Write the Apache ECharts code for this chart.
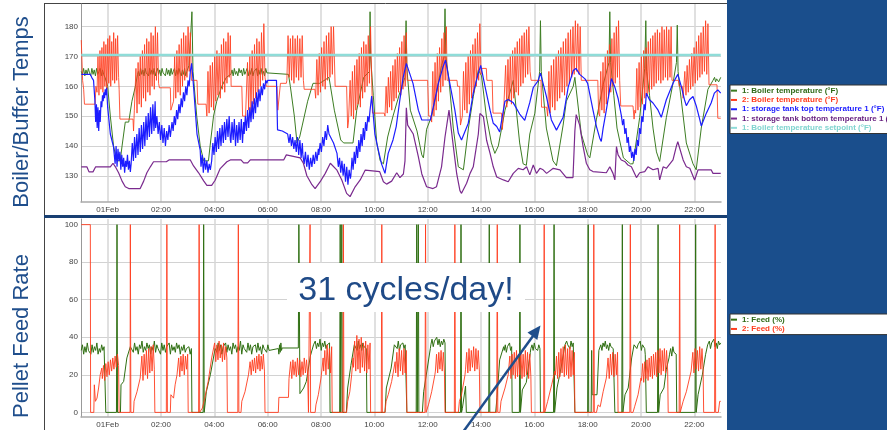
<!DOCTYPE html>
<html>
<head>
<meta charset="utf-8">
<script src="https://cdn.jsdelivr.net/npm/echarts@6/dist/echarts.min.js"></script>
<style>
  html, body { margin: 0; padding: 0; background: #fff; }
  #chart { width: 887px; height: 430px; }
</style>
</head>
<body>
<div id="chart"></div>
<script>
// x axis is hours relative to 01 Feb 00:00
const tickHours = [0, 2, 4, 6, 8, 10, 12, 14, 16, 18, 20, 22];
const tickLabels = ['01Feb', '02:00', '04:00', '06:00', '08:00', '10:00', '12:00', '14:00', '16:00', '18:00', '20:00', '22:00'];
const tempTicks = [130, 140, 150, 160, 170, 180];
const feedTicks = [0, 20, 40, 60, 80, 100];

const topNames = ['1: Boiler temperature (°F)', '2: Boiler temperature (°F)', '1: storage tank top temperature 1 (°F)', '1: storage tank bottom temperature 1 (°F)', '1: Boiler temperature setpoint (°F)'];
const bottomNames = ['1: Feed (%)', '2: Feed (%)'];

// pieces: [hour, value] or [fromHour, toHour, 'values sampled evenly over that span']
const boilerTemp1 = [
  [-0.99, -0.15, '165 164 166 163.5 165.5 164 166 164.5 163.5 166 164 165.5 163.5 166 164 165 166 163.5 165.5 164'],
  [-0.1, 163], [0, 160], [0.1, 150], [0.22, 140], [0.29, 137], [0.35, 135], [0.47, 135], [0.54, 140], [0.66, 148], [0.79, 148], [0.91, 155], [1.04, 160], [1.12, 164],
  [1.15, 2.97, '165 163.5 166 164 165.5 163.5 166 164.5 165 163.5 166 164 165.5 164 166 163.5 165 166 164 165.5 163.5 166 164.5 165 163.5 166 164 165.5 163.5 166 164 165 166 163.5 165.5 164 166 164.5 163.5 165.5 164 166 163.5 165'],
  [3.05, 167], [3.16, 185], [3.2, 165], [3.34, 150], [3.47, 140], [3.6, 135], [3.78, 135], [3.84, 140], [3.97, 150], [4.09, 155], [4.28, 160], [4.45, 163],
  [4.62, 5.97, '164 165.5 163.5 166 164 165 163.5 166 164.5 165.5 163.5 166 164 165 166 163.5 165.5 164 166 163.5 165 164.5 166 163.5 165.5 164 166 164 165 163.5 166 164.5'],
  [6.0, 164], [6.78, 164], [6.85, 160], [7.0, 150], [7.1, 141], [7.2, 143], [7.3, 147], [7.5, 155], [7.7, 161], [7.95, 161], [8.3, 163], [8.5, 152], [8.74, 142], [8.85, 141], [9.2, 141], [9.34, 152], [9.6, 163], [9.82, 165], [9.84, 185], [9.86, 170], [9.96, 157], [10.09, 141], [10.22, 135], [10.34, 134], [10.5, 143], [10.7, 150], [10.96, 158], [11.15, 163], [11.19, 182], [11.22, 166], [11.35, 152], [11.6, 145], [11.78, 137], [11.84, 136], [11.96, 145.6], [12.15, 150], [12.34, 158], [12.52, 167], [12.62, 170], [12.65, 186], [12.68, 170], [12.8, 162], [12.96, 146], [13.15, 133], [13.34, 132], [13.53, 146], [13.71, 156.5], [13.9, 165.5], [14.02, 163.5], [14.2, 150], [14.39, 141], [14.52, 137.5], [14.65, 140], [14.9, 152], [15.21, 162], [15.45, 141], [15.58, 134], [15.7, 133.5], [15.83, 144], [16.02, 151], [16.2, 165], [16.23, 182], [16.26, 165], [16.45, 146], [16.7, 135], [16.83, 133.4], [17.08, 147], [17.2, 155], [17.46, 160], [17.52, 163], [17.76, 144], [18.0, 137], [18.08, 136], [18.33, 149], [18.58, 160.5], [18.8, 168], [18.83, 185], [18.86, 168], [18.98, 157], [19.1, 146], [19.34, 136], [19.6, 134], [19.7, 134], [19.95, 149.5], [20.14, 166], [20.18, 182], [20.21, 165], [20.32, 157], [20.45, 146], [20.58, 138], [20.7, 134.8], [20.95, 149.5], [21.2, 161], [21.33, 168], [21.36, 180.5], [21.39, 165], [21.45, 160], [21.7, 141], [21.95, 134], [22.07, 132], [22.26, 146], [22.51, 159], [22.7, 162],
  [22.72, 22.99, '162 163 161.5 162.5 163 161.5 162 163']
];

const boilerTemp2 = [
  [-0.99, 175.5], [-0.94, 162], [-0.9, 159], [-0.87, 154], [-0.47, 154], [-0.44, 160],
  [-0.4, 0.41, '158 170 157 172 159 173 158 175 160 174 159 176 161 177 160 175 162 178 161 176 162 177 163'],
  [0.43, 159], [0.46, 149], [0.95, 149], [0.97, 145], [1.0, 152],
  [1.02, 1.91, '152 166 151 168 154 170 153 172 156 174 155 176 158 175 157 178 160 177 159 180 162 178 161'],
  [1.94, 159.5], [2.35, 159.5], [2.37, 152], [2.44, 152],
  [2.47, 3.1, '155 170 156 172 158 174 157 176 160 178 162 177 163 180 165 178'],
  [3.14, 162], [3.35, 162], [3.38, 154], [3.69, 154],
  [3.72, 4.6, '150 165 151 167 153 168 152 170 155 172 157 171 156 174 159 176 158 175 161 178 163 177'],
  [4.63, 160], [5.03, 160], [5.06, 150], [5.17, 150],
  [5.2, 5.9, '150 168 152 170 151 172 154 174 156 176 158 175 160 178 162 181 163'],
  [5.95, 160], [6.35, 160], [6.38, 152], [6.45, 152], [6.48, 161], [6.7, 161],
  [6.72, 7.34, '162 177 163 176 162 177 161 176 163 177 162 176 163 177 162'],
  [7.37, 159], [7.77, 159],
  [7.8, 8.47, '156 169 157 171 158 173 160 175 159 177 162 178 163 180 164 180'],
  [8.53, 160], [8.96, 160], [9.0, 146], [9.03, 148],
  [9.05, 9.9, '148 162 150 165 149 167 152 169 154 171 153 173 156 175 158 174 160 177 161 180 163'],
  [9.93, 151], [10.37, 151],
  [10.4, 11.2, '150 160 151 163 153 165 152 167 155 169 156 171 158 173 157 175 159 177 160 178'],
  [11.23, 162], [12.0, 162], [12.04, 150], [12.12, 150],
  [12.15, 12.7, '148 165 150 168 152 171 155 173 158 176 160 178 162 180'],
  [12.73, 162], [13.1, 162], [13.12, 160], [13.2, 160], [13.23, 147], [13.27, 147],
  [13.3, 14.0, '150 165 152 168 151 170 154 172 156 174 158 176 160 178 162 181 164'],
  [14.03, 166], [14.2, 166], [14.22, 162], [14.42, 162], [14.45, 151], [14.77, 151], [14.8, 145.5], [14.85, 152],
  [14.88, 15.84, '152 167 153 169 155 170 154 172 156 173 158 175 157 176 160 177 161 178 163 179 164 180 165'],
  [15.88, 162], [16.25, 162], [16.27, 153], [16.46, 153],
  [16.5, 17.72, '150 165 151 167 153 169 152 170 155 172 156 173 158 175 157 176 160 178 161 179 163 180 164 182 165 181 164 180'],
  [17.76, 162], [18.38, 162], [18.41, 151],
  [18.45, 19.2, '150 165 152 168 151 170 154 172 156 174 158 176 160 178 161 180 163 182 162'],
  [19.24, 153.4], [19.7, 153.4], [19.74, 149], [19.77, 152],
  [19.8, 21.13, '151 166 152 168 153 170 154 172 156 173 157 175 158 176 159 177 160 178 161 179 162 178 161 180 162 179 163 180 162 179 163 180'],
  [21.16, 162], [21.4, 162], [21.43, 160], [21.55, 160], [21.58, 156],
  [21.6, 22.51, '156 165 157 167 158 169 159 171 160 173 161 175 162 177 163 178 164 180 165 182 164 181'],
  [22.55, 160.5], [22.85, 160.5], [22.88, 149.3], [22.99, 149.3]
];

const tankTop = [
  [-0.99, 164], [-0.65, 164], [-0.6, 163], [-0.53, 162], [-0.48, 155.4],
  [-0.45, -0.25, '148 154 146 153 145 152 148 155'],
  [-0.22, -0.04, '153 157 155 158 156 159 157 159.5'],
  [0.0, 153], [0.1, 144], [0.22, 139.7],
  [0.28, 0.85, '134 140 133 139 135 138 132 137 133 136 131 135 133 137 132 135 131.3'],
  [0.88, 1.78, '134 141 135 143 136 144 137 146 138 147 139 148 140 150 142 151 143 153 144 154 145 155'],
  [1.8, 2.35, '146 150 144 148 142 147 141 146 140 145 142 147 143'],
  [2.37, 3.1, '143 148 145 150 147 152 149 154 151 156 153 158 155 160 157 162 160 165'],
  [3.15, 167.7], [3.22, 160], [3.35, 144], [3.47, 138.6],
  [3.5, 3.85, '133 137 131 136 132 135 131 134 132'],
  [3.9, 4.6, '135 141 137 143 138 145 139 146 140 147 141 148 142 149 143 150 142'],
  [4.62, 5.1, '141 148 142 149 140 147 141 148 142 149 141 148'],
  [5.12, 5.97, '144 150 145 152 146 153 148 155 149 156 151 158 153 159 155 160 157 161 159 162 161'],
  [6.0, 162], [6.33, 162], [6.37, 145.4], [6.55, 145], [6.75, 144],
  [6.8, 7.3, '141 144 140 143 139 142 138 143 137 142 136 141'],
  [7.32, 7.9, '137 134 138 133 137 132 136 133 137 134 138 135 139'],
  [7.92, 8.3, '137 141 138 143 140 145 142 147 144'],
  [8.35, 144], [8.47, 141], [8.6, 137.5],
  [8.65, 9.1, '133 136 131 135 130 134 128 133 127 132 129'],
  [9.12, 9.84, '130 136 132 138 134 140 136 142 138 144 140 146 142 148 145 150 148 152'],
  [9.9, 156.7], [10.02, 144], [10.15, 138.6], [10.27, 134], [10.4, 130.8], [10.52, 137.5], [10.7, 142], [10.82, 146.5], [10.95, 155], [11.08, 163], [11.2, 167.7], [11.45, 161], [11.65, 152], [11.78, 148.7], [12.1, 148.7], [12.21, 153], [12.4, 161], [12.58, 166.6], [12.67, 168.8], [12.83, 161], [13.02, 152], [13.15, 144.3], [13.27, 142], [13.33, 141.4], [13.52, 147.5], [13.71, 157.7], [13.9, 164.4], [13.99, 167], [14.15, 160], [14.34, 152], [14.46, 147.6], [14.59, 146.5], [14.7, 144.7], [14.9, 155], [15.02, 155.6], [15.2, 154.6], [15.45, 150.7], [15.64, 148.6], [15.83, 154.6], [15.96, 159.6], [16.14, 161.8], [16.23, 164.4], [16.45, 156.7], [16.64, 148.7], [16.83, 145.3], [16.9, 144.7], [17.08, 149.6], [17.27, 159.7], [17.46, 165.3], [17.56, 166], [17.7, 164], [17.9, 162.5], [18.0, 161], [18.2, 152], [18.33, 146.5], [18.45, 142.7], [18.51, 141.5], [18.58, 146], [18.7, 152], [18.89, 162.6], [19.02, 159.7],
  [19.14, 20.2, '156 154 152 150 147 149 144 146 141 143 138 140 136 138 135 139 137 142 140 146 144 150 148 154 152 157.7'],
  [20.32, 155.5], [20.45, 154.4], [20.64, 152], [20.76, 149.6], [20.95, 155.5], [21.2, 161], [21.38, 164], [21.51, 160], [21.63, 155.5], [21.7, 153.5], [21.82, 155.5], [21.95, 156.6], [22.07, 153.5], [22.2, 149], [22.26, 146.7], [22.45, 151], [22.63, 154.4], [22.75, 157.7], [22.88, 158.8], [22.99, 157.7]
];

const tankBottom = [
  [-0.99, 133], [-0.78, 133], [-0.7, 131.3], [-0.55, 131.3], [-0.45, 133], [0.1, 133], [0.2, 134.2], [0.29, 133], [0.41, 131], [0.54, 128.2], [0.66, 126.3], [0.79, 125.7], [1.22, 125.7], [1.35, 128.2], [1.47, 131], [1.6, 133], [1.72, 134.7], [2.2, 134.7], [2.3, 135.3], [3.1, 135.3], [3.22, 133.3], [3.41, 131], [3.6, 128.3], [3.72, 126.8], [3.9, 126.8], [4.03, 128.5], [4.22, 132.4], [4.47, 134.7], [4.6, 135.3], [5.0, 135.3], [5.1, 134.3], [5.25, 134.3], [5.35, 135.3], [6.6, 135.3], [6.7, 137], [7.22, 136], [7.34, 134.2], [7.47, 130], [7.66, 127], [7.78, 125.7], [7.97, 128], [8.16, 130.8], [8.35, 134.2], [8.4, 134.2], [8.59, 132], [8.78, 128.6], [8.96, 124.1], [9.09, 123], [9.28, 126.3], [9.47, 128.6], [9.66, 131.9], [10.2, 131.4], [10.34, 128], [10.46, 127.2], [10.65, 128.2], [10.84, 131], [10.96, 129.4], [11.09, 130.6], [11.15, 135], [11.2, 152.8], [11.25, 147], [11.46, 144], [11.65, 136.4], [11.78, 130.6], [11.96, 126.3], [12.2, 125.7], [12.33, 126.3], [12.52, 133], [12.65, 143], [12.8, 152], [12.96, 140], [13.09, 130.6], [13.21, 125], [13.27, 124.1], [13.46, 127.5], [13.59, 130.8], [13.71, 133], [13.9, 144], [13.96, 150.9], [14.09, 149.8], [14.21, 141.9], [14.34, 137.5], [14.46, 133], [14.59, 129.6], [14.84, 128.6], [15.02, 128], [15.21, 130.8], [15.4, 132.5], [15.58, 132], [15.71, 133], [15.83, 130.3], [15.96, 133.6], [16.08, 130.8], [16.21, 132.5], [16.33, 132], [16.46, 130.8], [16.71, 132.5], [16.96, 132], [17.2, 129.4], [17.45, 129.4], [17.52, 145], [17.57, 150.5], [17.7, 147], [17.83, 139.8], [17.95, 134.2], [18.08, 132], [18.2, 131.4], [18.7, 131], [18.83, 133], [18.95, 130.8], [19.02, 128.6], [19.08, 139.8], [19.14, 137], [19.26, 135.3], [19.39, 134.8], [19.51, 133.6], [19.64, 133], [19.83, 129.4], [19.95, 131], [20.14, 131.4], [20.26, 133], [20.45, 132], [20.64, 132.5], [20.7, 128.6], [20.83, 133], [20.95, 132.5], [21.2, 135.3], [21.33, 140], [21.38, 141.4], [21.58, 135.3], [21.7, 133], [21.83, 132.5], [22.01, 128.6], [22.14, 132], [22.63, 132], [22.7, 130.8], [22.99, 130.8]
];

const setpoint = [[-0.99, 170.5], [22.99, 170.5]];

const feed1 = [
  [-0.99, -0.09, '33 36 31 35 32 37 33 34 31 36 32 35 33 37 31 34 32 36 33 35 34'],
  [-0.07, 0], [0.33, 0], [0.35, 100], [0.37, 0], [0.48, 0], [0.5, 14.7], [0.6, 16.5], [0.72, 29], [0.85, 35],
  [0.87, 3.14, '34 36 32 37 33 35 31 36 34 38 32 35 33 37 34 36 31 35 33 38 32 36 34 35 31 37 33 36 32 35 34 37 31 36 33 35 32 37 34 36 31 35 33 36 32 34 33 35 31 34'],
  [3.16, 0], [3.58, 0], [3.6, 100], [3.62, 0], [3.68, 0], [3.7, 11], [3.85, 20], [4.03, 34],
  [4.05, 6.1, '35 32 37 33 36 31 35 34 37 32 36 33 35 31 37 34 36 32 35 33 38 31 36 34 35 32 37 33 36 31 35 34 36 32 37 33 35 31 36 34 35 32 36 33 34'],
  [6.12, 34], [6.4, 34],
  [6.42, 6.52, '31 36 32 37 33'],
  [6.54, 34.3], [7.15, 34.3], [7.17, 100], [7.19, 100], [7.21, 10], [7.35, 13], [7.45, 16.5], [7.6, 30], [7.72, 36],
  [7.74, 8.32, '36 38 34 37 35 39 33 37 35 38 34 36 35 37'],
  [8.34, 0], [8.7, 0], [8.72, 100], [8.74, 0], [8.76, 0], [8.78, 100], [8.8, 0], [8.95, 0], [9.0, 13], [9.12, 25], [9.25, 36],
  [9.27, 9.7, '35 37 33 38 34 36 33 37 35 36 34'],
  [9.72, 0], [10.4, 0], [10.45, 13], [10.63, 23.6], [10.75, 36],
  [10.77, 11.2, '35 37 34 38 33 36 35 37 34 36 35'],
  [11.22, 0], [11.57, 0], [11.59, 100], [11.61, 0], [11.63, 0], [11.65, 100], [11.67, 0], [11.8, 0], [11.85, 11], [11.97, 22], [12.1, 34],
  [12.12, 12.65, '36 39 35 38 37 40 36 39 35 38 36 39 37'],
  [12.67, 0], [13.23, 0], [13.25, 100], [13.27, 0], [13.3, 2], [13.42, 14], [13.45, 0], [14.29, 0], [14.31, 100], [14.33, 0], [14.55, 0], [14.6, 8], [14.7, 28], [14.85, 35],
  [14.87, 15.15, '33 36 32 35 34 37 33 35'],
  [15.17, 0], [15.44, 0], [15.46, 100], [15.48, 0], [15.52, 0], [15.55, 12], [15.7, 16], [15.85, 32],
  [15.87, 16.21, '34 36 33 37 34 35 33 36 34'],
  [16.23, 0], [16.72, 0], [16.74, 100], [16.76, 0], [16.8, 0], [16.85, 13], [16.98, 22], [17.15, 36],
  [17.17, 17.5, '35 38 36 37 34 38 35 37 36'],
  [17.52, 0], [18.0, 0], [18.02, 100], [18.04, 0], [18.13, 0], [18.15, 33], [18.17, 9.4], [18.35, 9.4], [18.42, 33],
  [18.45, 19.0, '34 36 33 37 35 38 34 36 33 37 35 36 34 35'],
  [19.02, 0], [19.28, 0], [19.3, 100], [19.32, 0], [19.38, 0], [19.4, 9.4], [19.52, 13], [19.65, 29], [19.74, 36],
  [19.76, 20.14, '35 37 34 36 35 38 33 36 35 34'],
  [20.16, 30.7], [20.2, 0], [20.62, 0], [20.64, 100], [20.66, 0], [20.7, 0], [20.72, 9.4], [20.86, 13], [20.95, 23], [21.05, 29],
  [21.07, 21.32, '31 34 30 35 32 33 31'],
  [21.34, 0], [22.03, 0], [22.05, 100], [22.07, 0], [22.12, 0], [22.14, 9.4], [22.3, 20], [22.42, 30.7], [22.5, 36],
  [22.52, 22.99, '35 38 34 37 36 39 35 37 34 38 36 37']
];

const feed2 = [
  [-0.99, 100], [-0.65, 100], [-0.64, 0], [-0.52, 0], [-0.5, 14.7], [-0.46, 5.9], [-0.4, 7.6], [-0.34, 13], [-0.28, 20], [-0.22, 23.6],
  [-0.2, 0.41, '18 25 17 26 19 27 20 28 22 29 23 30 24 31 25'],
  [0.43, 0], [0.84, 0], [0.85, 100], [0.87, 0], [0.97, 0], [0.99, 5.9], [1.1, 11], [1.22, 18.3],
  [1.24, 1.75, '19 30 17 31 20 33 18 34 21 35 22 36 23'],
  [1.77, 0], [2.2, 0], [2.22, 100], [2.24, 0], [2.35, 0], [2.37, 9.4], [2.47, 7.6], [2.53, 14.7], [2.6, 20],
  [2.62, 3.0, '21 29 19 30 22 31 20 30 23 31'],
  [3.02, 0], [3.41, 0], [3.43, 100], [3.45, 0], [3.5, 0], [3.55, 2.3], [3.64, 7.6], [3.77, 16.5], [3.9, 29],
  [3.97, 4.47, '30 37 27 36 28 38 29 36 27 37 28 35 29'],
  [4.49, 0], [4.88, 0], [4.9, 100], [4.92, 0], [5.0, 0], [5.03, 5.9], [5.15, 11], [5.28, 20],
  [5.3, 5.88, '21 27 20 28 22 29 21 30 23 31 22 30 23 31 22'],
  [5.9, 0], [6.4, 0], [6.42, 8], [6.78, 8], [6.8, 18],
  [6.82, 7.5, '19 27 18 28 20 27 19 29 20 28 19 27 20 29 21 28 20'],
  [7.53, 0], [7.57, 0], [7.59, 100], [7.61, 0], [7.78, 0], [7.81, 4], [7.9, 9.4], [8.0, 18.3], [8.08, 29],
  [8.1, 8.4, '22 33 20 36 23 34 21 35'],
  [8.42, 0], [8.82, 0], [8.84, 100], [8.86, 0], [8.96, 0], [9.0, 5.9], [9.08, 11], [9.15, 20], [9.2, 29],
  [9.22, 9.84, '24 38 22 41 23 39 21 40 24 37 22 38 21 36 23 37'],
  [9.86, 0], [10.26, 0], [10.28, 100], [10.3, 0], [10.4, 0], [10.44, 5.9], [10.52, 9.4], [10.65, 16.5], [10.78, 27],
  [10.8, 11.2, '21 32 19 34 22 33 20 34 21 33'],
  [11.22, 0], [11.9, 0], [11.92, 100], [11.94, 0], [11.98, 0], [12.03, 4], [12.15, 11], [12.27, 20],
  [12.29, 12.63, '22 31 21 32 23 33 22 32 21'],
  [12.65, 0], [13.0, 0], [13.02, 100], [13.04, 0], [13.15, 0], [13.19, 5.9], [13.27, 9.4], [13.4, 20],
  [13.42, 13.94, '23 32 21 34 22 33 24 35 22 34 23 33 22'],
  [13.96, 0], [14.59, 0], [14.61, 100], [14.63, 0], [14.71, 0], [14.75, 5.9], [14.9, 13], [15.02, 20],
  [15.04, 15.87, '19 30 18 31 20 32 18 33 19 31 20 32 18 31 19 33 20 32 18 31 19'],
  [15.89, 0], [16.35, 0], [16.37, 100], [16.39, 0], [16.46, 0], [16.5, 5.9], [16.65, 14.7], [16.77, 22],
  [16.79, 17.5, '20 30 18 32 19 34 21 35 19 36 20 34 18 35 19 33 20 32'],
  [17.52, 0], [18.21, 0], [18.23, 100], [18.25, 0], [18.33, 0], [18.39, 4], [18.47, 3], [18.58, 11], [18.7, 18.3],
  [18.72, 19.12, '19 29 18 31 20 32 19 31 20 32'],
  [19.14, 0], [19.58, 0], [19.6, 100], [19.62, 0], [19.7, 0], [19.76, 3], [19.89, 9.4], [20.0, 18.3],
  [20.02, 21.0, '17 26 16 27 18 28 17 29 19 30 18 31 20 32 19 33 21 34 20 33 22 34 21 33 22'],
  [21.02, 0], [21.43, 0], [21.45, 100], [21.47, 0], [21.52, 0], [21.58, 5.9], [21.7, 11], [21.88, 22],
  [21.9, 22.33, '22 32 21 34 23 33 22 35 23 34 22'],
  [22.35, 0], [22.76, 0], [22.78, 100], [22.8, 0], [22.9, 0], [22.95, 5.9], [22.99, 5.9]
];

const topColors = ['#3c7d22', '#ff3c1e', '#1c1cff', '#7a2a8e', '#8fdcd8'];
const topTextColors = ['#2f6a16', '#ff3c1e', '#1c1cff', '#6a2482', '#7fd4cf'];
const bottomColors = ['#2f6f12', '#ff3c1e'];

// turn pieces into [hour, value] points
function expand (pieces) {
  const out = [];
  pieces.forEach(p => {
    if (p.length === 2) { out.push(p); return; }
    const vals = p[2].trim().split(/\s+/).map(Number);
    const n = vals.length;
    vals.forEach((v, i) => out.push([p[0] + (p[1] - p[0]) * i / (n - 1), v]));
  });
  return out;
}

function xAxisFor (gridIndex) {
  return {
    type: 'value', gridIndex, min: -1, max: 23,
    axisLine: { show: true, onZero: false, lineStyle: { color: '#aaa', width: 1.5 } },
    axisTick: { show: false, customValues: tickHours },
    axisLabel: {
      customValues: tickHours,
      formatter: v => tickLabels[tickHours.indexOf(v)] || '',
      fontSize: 8, color: '#444', margin: 4, fontFamily: 'Liberation Sans'
    },
    splitLine: { show: true, lineStyle: { color: '#d6d6d6', width: 1.5 } }
  };
}

function yAxisFor (gridIndex, min, max, ticks) {
  return {
    type: 'value', gridIndex, min, max,
    axisLine: { show: true, onZero: false, lineStyle: { color: '#999', width: 1 } },
    axisTick: { show: false, customValues: ticks },
    axisLabel: { customValues: ticks, fontSize: 8, color: '#444', margin: 3, fontFamily: 'Liberation Sans' },
    splitLine: { show: true, lineStyle: { color: '#d2d2d2', width: 1 } }
  };
}

function lineSeries (name, data, color, xi, width, z) {
  return {
    name, type: 'line', xAxisIndex: xi, yAxisIndex: xi,
    data: expand(data), symbol: 'none', showSymbol: false, silent: true,
    color, lineStyle: { color, width }, z
  };
}

function legendFor (names, textColors, top) {
  return {
    orient: 'vertical', left: 730, top,
    data: names.map((n, i) => ({ name: n, textStyle: { color: textColors[i] } })),
    icon: 'rect', itemWidth: 6, itemHeight: 2, itemGap: 0,
    padding: [1, 300, 1, 1],
    backgroundColor: '#fff', borderColor: '#333', borderWidth: 1, borderRadius: 0,
    selectedMode: false,
    textStyle: { fontSize: 8, fontWeight: 'bold', fontFamily: 'Liberation Sans', lineHeight: 9.3 }
  };
}

const chart = echarts.init(document.getElementById('chart'), null, { renderer: 'canvas' });
chart.setOption({
  animation: false,
  backgroundColor: '#fff',
  textStyle: { fontFamily: 'Liberation Sans' },
  grid: [
    { left: 81, width: 640, top: 4, height: 198, outerBoundsMode: 'none' },
    { left: 81, width: 640, top: 219, height: 198, outerBoundsMode: 'none' }
  ],
  xAxis: [xAxisFor(0), xAxisFor(1)],
  yAxis: [yAxisFor(0, 121.2, 187.6, tempTicks), yAxisFor(1, -2.45, 103, feedTicks)],
  legend: [legendFor(topNames, topTextColors, 85), legendFor(bottomNames, ['#2f6a16', '#ff3c1e'], 314)],
  series: [
    lineSeries(topNames[0], boilerTemp1, topColors[0], 0, 1, 2),
    lineSeries(topNames[1], boilerTemp2, topColors[1], 0, 0.85, 3),
    lineSeries(topNames[2], tankTop, topColors[2], 0, 1.2, 4),
    lineSeries(topNames[3], tankBottom, topColors[3], 0, 1.2, 5),
    lineSeries(topNames[4], setpoint, topColors[4], 0, 2.5, 6),
    lineSeries(bottomNames[0], feed1, bottomColors[0], 1, 1, 2),
    lineSeries(bottomNames[1], feed2, bottomColors[1], 1, 0.9, 3)
  ],
  graphic: [
    { type: 'rect', shape: { x: 727, y: 0, width: 160, height: 430 }, style: { fill: '#1a4e8c' }, z: -10, silent: true },
    { type: 'line', shape: { x1: 44.5, y1: 3, x2: 44.5, y2: 430 }, style: { stroke: '#444', lineWidth: 1 }, silent: true },
    { type: 'line', shape: { x1: 44, y1: 3.5, x2: 727, y2: 3.5 }, style: { stroke: '#444', lineWidth: 1 }, silent: true },
    { type: 'rect', shape: { x: 44, y: 215, width: 683, height: 3 }, style: { fill: '#183f72' }, silent: true },
    { type: 'text', x: 22, y: 112, rotation: Math.PI / 2, silent: true,
      style: { text: 'Boiler/Buffer Temps', fontSize: 22, fontFamily: 'Liberation Sans', fill: '#1f4e8c', align: 'center', verticalAlign: 'middle' } },
    { type: 'text', x: 22, y: 336, rotation: Math.PI / 2, silent: true,
      style: { text: 'Pellet Feed Rate', fontSize: 22, fontFamily: 'Liberation Sans', fill: '#1f4e8c', align: 'center', verticalAlign: 'middle' } },
    { type: 'rect', shape: { x: 287, y: 263, width: 238, height: 49 }, style: { fill: '#fff' }, z: 100, silent: true },
    { type: 'text', x: 406, y: 291, z: 101, silent: true,
      style: { text: '31 cycles/day!', fontSize: 34, fontFamily: 'Liberation Sans', fill: '#1f4a87', align: 'center', verticalAlign: 'middle' } },
    { type: 'line', shape: { x1: 463, y1: 432, x2: 533, y2: 336 }, style: { stroke: '#1f4e8c', lineWidth: 2.5 }, z: 101, silent: true },
    { type: 'polygon', shape: { points: [[540.5, 325.5], [537.3, 340], [527.5, 332.6]] }, style: { fill: '#1f4e8c' }, z: 101, silent: true }
  ]
});
</script>
</body>
</html>
